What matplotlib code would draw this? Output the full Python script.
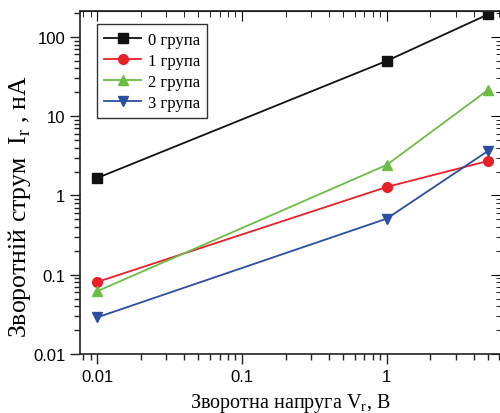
import matplotlib
matplotlib.use("Agg")
import matplotlib.pyplot as plt
from matplotlib.ticker import LogLocator, NullFormatter, FixedLocator, FixedFormatter

plt.rcParams["mathtext.fontset"] = "custom"
plt.rcParams["mathtext.rm"] = "Liberation Serif"

voltage = [0.01, 1, 5]
group0 = [1.66, 49.8, 192]
group1 = [0.081, 1.28, 2.72]
group2 = [0.062, 2.43, 21.4]
group3 = [0.029, 0.51, 3.64]
labels = ["0 група", "1 група", "2 група", "3 група"]

xticks = [0.01, 0.1, 1]
xtick_labels = ["0.01", "0.1", "1"]
yticks = [0.01, 0.1, 1, 10, 100]
ytick_labels = ["0.01", "0.1", "1", "10", "100"]

fig = plt.figure(figsize=(5, 4.14), dpi=100)
ax = fig.add_axes([0.16, 0.1425, 0.843, 0.8285])

styles = [("#111111", "s"), ("#e8202a", "o"), ("#6cbd45", "^"), ("#2a4ea0", "v")]
for ys, lab, (c, m) in zip([group0, group1, group2, group3], labels, styles):
    ax.plot(voltage, ys, color=c, marker=m, markersize=7, lw=1.3, label=lab,
            markeredgecolor=c)

ax.set_xscale("log")
ax.set_yscale("log")
ax.set_xlim(0.0076, 6.2)
ax.set_ylim(0.01, 212)

ax.xaxis.set_major_locator(FixedLocator(xticks))
ax.xaxis.set_major_formatter(FixedFormatter(xtick_labels))
ax.yaxis.set_major_locator(FixedLocator(yticks))
ax.yaxis.set_major_formatter(FixedFormatter(ytick_labels))
ax.xaxis.set_minor_locator(LogLocator(base=10, subs=range(2, 10)))
ax.yaxis.set_minor_locator(LogLocator(base=10, subs=range(2, 10)))
ax.xaxis.set_minor_formatter(NullFormatter())
ax.yaxis.set_minor_formatter(NullFormatter())

ax.tick_params(which="both", direction="out", labelsize=12, width=1, color="#222222")
ax.tick_params(which="major", length=7)
ax.tick_params(which="minor", length=4)
for lab in ax.get_xticklabels() + ax.get_yticklabels():
    lab.set_fontfamily("Liberation Sans")

# inward ticks on top and right
ax2x = ax.secondary_xaxis("top")
ax2x.set_xscale("log")
ax2x.tick_params(which="both", direction="in", labeltop=False)
ax2x.xaxis.set_major_locator(FixedLocator(xticks))
ax2x.xaxis.set_minor_locator(LogLocator(base=10, subs=range(2, 10)))
ax2x.xaxis.set_major_formatter(NullFormatter())
ax2x.xaxis.set_minor_formatter(NullFormatter())
ax2x.tick_params(which="major", length=7)
ax2x.tick_params(which="minor", length=4)
ax2y = ax.secondary_yaxis("right")
ax2y.tick_params(which="both", direction="in", labelright=False)
ax2y.yaxis.set_major_locator(FixedLocator(yticks))
ax2y.yaxis.set_minor_locator(LogLocator(base=10, subs=range(2, 10)))
ax2y.yaxis.set_major_formatter(NullFormatter())
ax2y.yaxis.set_minor_formatter(NullFormatter())
ax2y.tick_params(which="major", length=8)
ax2y.tick_params(which="minor", length=4)
ax2y.spines["right"].set_visible(False)
ax.spines["right"].set_visible(False)

for s in ax.spines.values():
    s.set_linewidth(1.2)
    s.set_color("#222222")

ax.set_xlabel("Зворотна напруга V$_\\mathrm{r}$, В", fontsize=14.5,
              fontfamily="Liberation Serif", labelpad=5)
ax.set_ylabel("Зворотній струм  I$_\\mathrm{r}$ , нА", fontsize=18.5,
              fontfamily="Liberation Serif")
ax.yaxis.set_label_coords(-0.112, 0.434)

leg = ax.legend(loc="upper left", bbox_to_anchor=(0.04, 0.962), borderaxespad=0,
                fancybox=False, edgecolor="#333333", framealpha=1,
                handlelength=2.2, handletextpad=0.4, borderpad=0.45,
                labelspacing=0.3,
                prop={"family": "Liberation Serif", "size": 12})
leg.get_frame().set_linewidth(1.0)

fig.savefig("out.png", dpi=100)
